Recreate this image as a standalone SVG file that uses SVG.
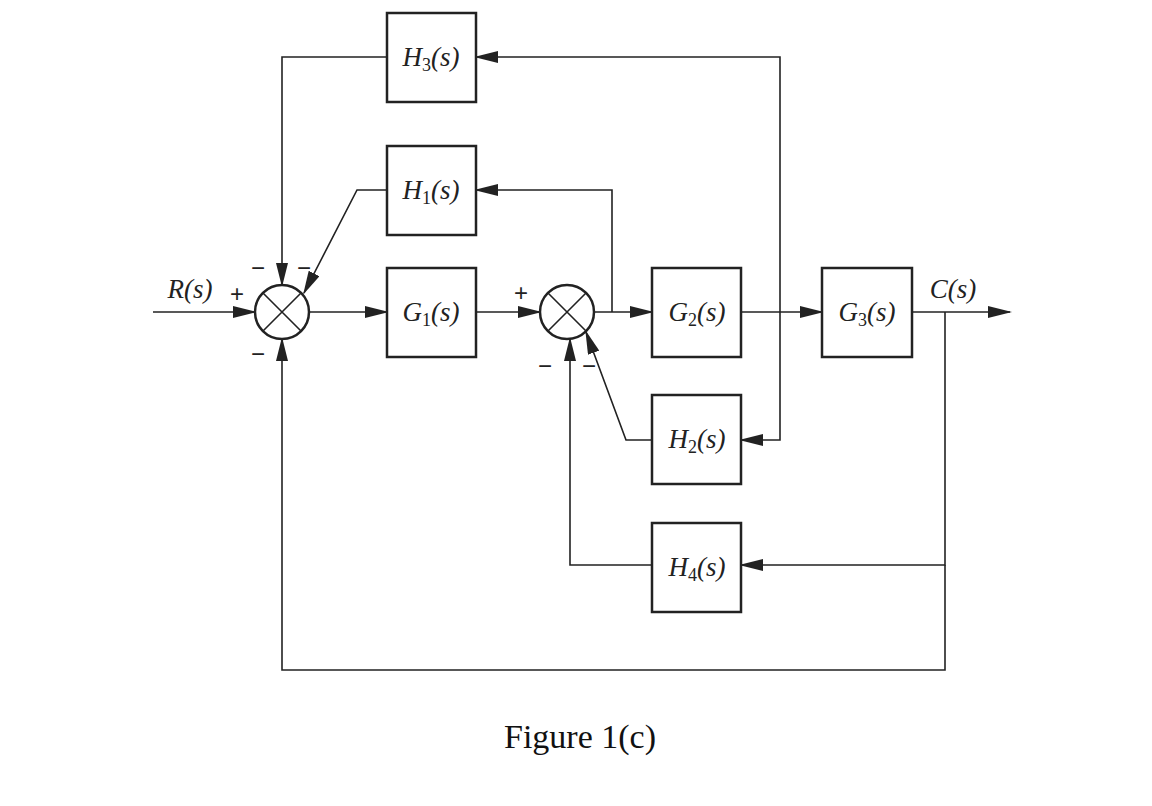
<svg xmlns="http://www.w3.org/2000/svg" width="1152" height="806" viewBox="0 0 1152 806">
<style>
.b{fill:#fff;stroke:#222;stroke-width:2.5}
.l{fill:none;stroke:#222;stroke-width:1.6}
.t{font-family:"Liberation Serif",serif;font-size:27px;font-style:italic;fill:#222;text-anchor:middle}
.u{font-style:normal;font-size:18px}
.s{font-family:"Liberation Sans",sans-serif;font-size:24px;fill:#222;text-anchor:middle}
</style>
<defs><marker id="a" markerWidth="24" markerHeight="12" refX="22" refY="6" orient="auto" markerUnits="userSpaceOnUse"><path d="M0,0 L24,6 L0,12 Z" fill="#222"/></marker></defs>
<rect width="1152" height="806" fill="#fff"/>
<g id="connectors" class="l">
<path d="M153,312 H255" marker-end="url(#a)"/>
<path d="M309,312 H387" marker-end="url(#a)"/>
<path d="M476,312 H540" marker-end="url(#a)"/>
<path d="M594,312 H652" marker-end="url(#a)"/>
<path d="M612,312 V190 H476" marker-end="url(#a)"/>
<path d="M387,190 H357 L304,293" marker-end="url(#a)"/>
<path d="M387,57 H282 V285" marker-end="url(#a)"/>
<path d="M741,312 H822" marker-end="url(#a)"/>
<path d="M780,312 V57 H476" marker-end="url(#a)"/>
<path d="M780,312 V440 H741" marker-end="url(#a)"/>
<path d="M912,312 H1010" marker-end="url(#a)"/>
<path d="M945,312 V565 H741" marker-end="url(#a)"/>
<path d="M945,565 V670 H282 V339" marker-end="url(#a)"/>
<path d="M652,565 H570 V339" marker-end="url(#a)"/>
<path d="M652,440 H626 L586,332" marker-end="url(#a)"/>
</g>
<g id="sum1"><circle class="b" cx="282" cy="312" r="27" stroke-width="2"/><path class="l" d="M263,293 L301,331 M301,293 L263,331"/></g>
<g id="sum2"><circle class="b" cx="567" cy="312" r="27" stroke-width="2"/><path class="l" d="M548,293 L586,331 M586,293 L548,331"/></g>
<g id="H3"><rect class="b" x="387" y="13" width="89" height="89"/><text class="t" x="431" y="66">H<tspan class="u" dy="5">3</tspan><tspan dy="-5">(s)</tspan></text></g>
<g id="H1"><rect class="b" x="387" y="146" width="89" height="89"/><text class="t" x="431" y="199">H<tspan class="u" dy="5">1</tspan><tspan dy="-5">(s)</tspan></text></g>
<g id="G1"><rect class="b" x="387" y="268" width="89" height="89"/><text class="t" x="431" y="321">G<tspan class="u" dy="5">1</tspan><tspan dy="-5">(s)</tspan></text></g>
<g id="G2"><rect class="b" x="652" y="268" width="89" height="89"/><text class="t" x="697" y="321">G<tspan class="u" dy="5">2</tspan><tspan dy="-5">(s)</tspan></text></g>
<g id="G3"><rect class="b" x="822" y="268" width="90" height="89"/><text class="t" x="867" y="321">G<tspan class="u" dy="5">3</tspan><tspan dy="-5">(s)</tspan></text></g>
<g id="H2"><rect class="b" x="652" y="395" width="89" height="89"/><text class="t" x="697" y="448">H<tspan class="u" dy="5">2</tspan><tspan dy="-5">(s)</tspan></text></g>
<g id="H4"><rect class="b" x="652" y="523" width="89" height="89"/><text class="t" x="697" y="576">H<tspan class="u" dy="5">4</tspan><tspan dy="-5">(s)</tspan></text></g>
<g id="labels">
<text class="t" x="190" y="298" font-style="normal"><tspan font-style="italic">R</tspan>(<tspan font-style="italic">s</tspan>)</text>
<text class="t" x="953" y="298" font-style="normal"><tspan font-style="italic">C</tspan>(<tspan font-style="italic">s</tspan>)</text>
<text class="s" x="237" y="302">+</text>
<text class="s" x="258" y="276">−</text>
<text class="s" x="304" y="276">−</text>
<text class="s" x="258" y="362">−</text>
<text class="s" x="521" y="301">+</text>
<text class="s" x="545" y="374">−</text>
<text class="s" x="589" y="374">−</text>
<text x="580" y="748" font-family="Liberation Serif,serif" font-size="34" fill="#111" text-anchor="middle">Figure 1(c)</text>
</g>
</svg>
